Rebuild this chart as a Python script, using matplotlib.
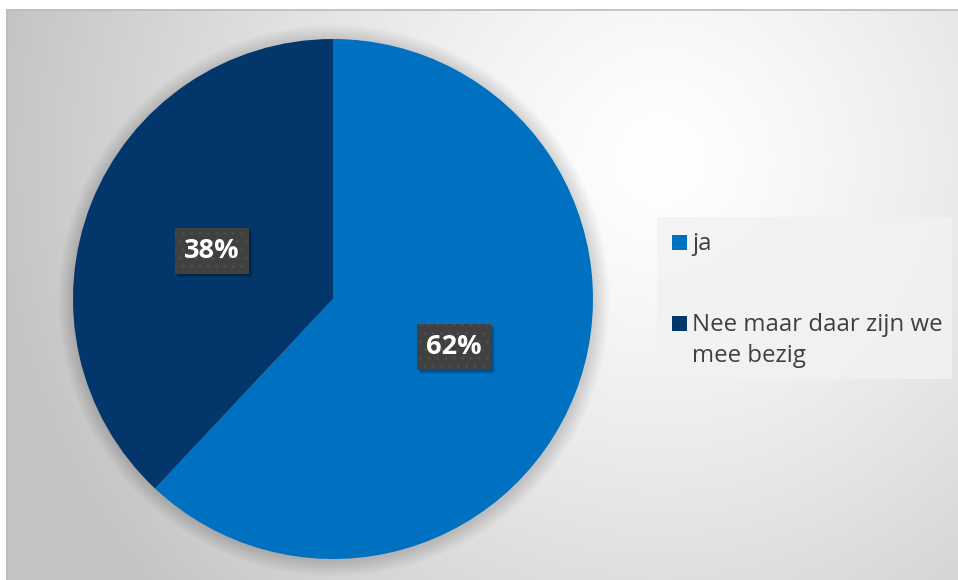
import numpy as np
import matplotlib
matplotlib.use('Agg')
import matplotlib.pyplot as plt
from matplotlib.patches import Rectangle, Circle
from matplotlib.path import Path
from matplotlib.transforms import IdentityTransform

categories = ['ja', 'Nee maar daar zijn we mee bezig']
legend_lines = [['ja'], ['Nee maar daar zijn we', 'mee bezig']]
values = [62, 38]
colors = ['#0070C0', '#03376B']

W, H = 958, 580
fig = plt.figure(figsize=(W / 100, H / 100), dpi=100)
fig.patch.set_facecolor('white')

# ---- chart area background (radial gradient) ----
bx0, by0 = 6, 9
nx, ny = W - bx0, H - by0
ax_bg = fig.add_axes([bx0 / W, 0, nx / W, ny / H], zorder=-1)
ax_bg.set_axis_off()
yy, xx = np.mgrid[0:ny, 0:nx]
gcx, gcy = 660 - bx0, 160 - by0
d = np.hypot(xx - gcx, yy - gcy)
g = 255 - 60 * np.clip(d / 680, 0, 1) ** 1.3
img = np.dstack([g, g, g]).astype(np.uint8)
ax_bg.imshow(img, extent=(0, nx, ny, 0), aspect='auto', interpolation='bilinear')
ax_bg.set_xlim(0, nx)
ax_bg.set_ylim(ny, 0)
ax_bg.add_patch(Rectangle((0.5, 0.5), nx, ny, fill=False, ec='#BDBDBD', lw=1.2))


def padbox(x0, y0, width, height, mutation_size):
    px = 0.33 * mutation_size
    py = 0.38 * mutation_size
    xa, ya = x0 - px, y0 - py
    xb, yb = x0 + width + px, y0 + height + py
    return Path([(xa, ya), (xb, ya), (xb, yb), (xa, yb), (xa, ya)], closed=True)


# ---- pie ----
cxp, cyp, r = 333, 299, 260
ax = fig.add_axes([(cxp - r) / W, (H - cyp - r) / H, 2 * r / W, 2 * r / H], zorder=1)
ax.set_axis_off()
for k in range(12):
    ax.add_patch(Circle((0.004, -0.006), 1.0 + 0.005 * (k + 1), color='black',
                        alpha=0.010, lw=0, zorder=0, clip_on=False))

wedges, texts, autotexts = ax.pie(
    values, colors=colors, startangle=90, counterclock=False,
    autopct=lambda p: f'{p:.0f}%', pctdistance=0.5,
    wedgeprops=dict(linewidth=0, clip_on=False), radius=1.0)
ax.set_xlim(-1, 1)
ax.set_ylim(-1, 1)

for t in autotexts:
    t.set_zorder(5)
    t.set_color('white')
    t.set_fontweight('bold')
    t.set_fontsize(19.5)
    t.set_family('Open Sans')
    t.set_bbox(dict(boxstyle=padbox, fc='#404040', ec='#4C4C4C',
                    lw=0, hatch='..'))

# soft shadows behind the label boxes (display coords)
fig.canvas.draw()
for t in autotexts:
    bb = t.get_bbox_patch().get_window_extent()
    for k, a in enumerate([0.16, 0.10, 0.06]):
        ax.add_patch(Rectangle((bb.x0 + 2 + k, bb.y0 - 2 - k), bb.width, bb.height,
                               fc='black', alpha=a, lw=0, zorder=3,
                               transform=IdentityTransform(), clip_on=False))

# ---- legend (overlay in pixel coords, top-left origin) ----
ov = fig.add_axes([0, 0, 1, 1], zorder=3)
ov.set_axis_off()
ov.set_xlim(0, W)
ov.set_ylim(H, 0)
ov.patch.set_alpha(0)
ov.add_patch(Rectangle((657, 217), 295, 162, fc='#F2F2F2', ec='none', alpha=0.85))

row_tops = [235, 316]
for lines, col, top in zip(legend_lines, colors, row_tops):
    ov.add_patch(Rectangle((672, top), 15, 15, fc=col, ec='none'))
    for i, line in enumerate(lines):
        ov.text(692, top + 15 + 31 * i, line, fontsize=17.3, family='Open Sans',
                color='#404040', va='baseline', ha='left')

fig.savefig('out.png', dpi=100)
